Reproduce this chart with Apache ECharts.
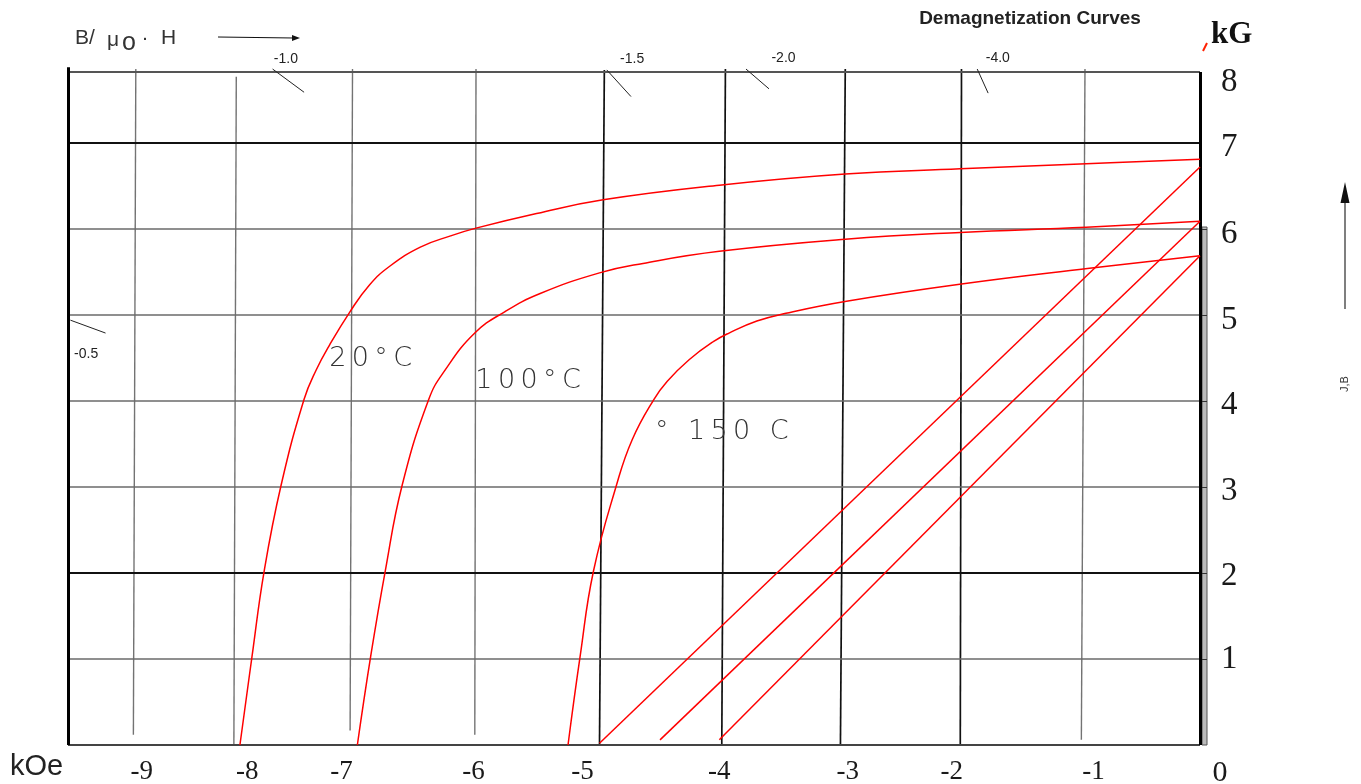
<!DOCTYPE html>
<html>
<head>
<meta charset="utf-8">
<script src="https://cdn.jsdelivr.net/npm/echarts@6/dist/echarts.min.js"></script>
<style>
html, body { margin: 0; padding: 0; background: #fff; }
#chart { width: 1361px; height: 784px; }
</style>
</head>
<body>
<div id="chart"></div>
<script>
var chart = echarts.init(document.getElementById('chart'));

// H in kOe, B in kG
let curve20 = [[-7.93,0],[-7.83,1.03],[-7.73,2.02],[-7.59,3.02],[-7.40,4.02],[-7.30,4.36],[-7.19,4.65],[-7.02,5.04],[-6.86,5.35],[-6.69,5.57],[-6.44,5.79],[-6.19,5.92],[-5.98,6.01],[-5.48,6.18],[-4.93,6.34],[-3.97,6.51],[-2.93,6.64],[-1.98,6.70],[-0.94,6.76],[0,6.81]];
let curve100 = [[-6.96,0],[-6.85,1.03],[-6.73,2.02],[-6.59,3.02],[-6.37,4.02],[-6.24,4.35],[-5.99,4.79],[-5.74,5.04],[-5.45,5.25],[-4.96,5.49],[-4.60,5.60],[-3.97,5.74],[-2.93,5.88],[-1.98,5.96],[-0.94,6.02],[0,6.09]];
let curve150 = [[-5.22,0],[-5.12,1.03],[-5.01,2.02],[-4.82,3.02],[-4.69,3.55],[-4.51,4.02],[-4.40,4.23],[-4.22,4.48],[-4.02,4.69],[-3.89,4.79],[-3.66,4.93],[-3.42,5.02],[-2.92,5.16],[-1.97,5.36],[-0.93,5.54],[0,5.69]];
// straight recoil lines
let recoil1 = [[-4.96,0.02],[0,6.72]];
let recoil2 = [[-4.46,0.06],[0,6.09]];
let recoil3 = [[-3.97,0.06],[0,5.69]];

let curveNames = ['20°C', '100°C', '° 150 C'];
let curveLabelAt = [[-6.85,4.49],[-5.55,4.23],[-3.95,3.64]];

// axis labels (the scan's labels are not evenly placed)
let xLabels = ['-9','-8','-7','-6','-5','-4','-3','-2','-1','0'];
let xLabelAt = [-8.74,-7.87,-7.09,-6.0,-5.1,-3.97,-2.91,-2.05,-0.88,0];
let yLabels = ['1','2','3','4','5','6','7','8'];
let yLabelAt = [0.995,1.96,2.95,3.95,4.94,5.94,6.95,7.70];

// sheet grid: vertical lines lean a little (kOe at top / at bottom)
let vGridTop = [-8.79,-7.96,-7.00,-5.98,-4.92,-3.92,-2.93,-1.97,-0.95];
let vGridBottom = [-8.81,-7.98,-7.02,-5.99,-4.96,-3.95,-2.97,-1.98,-0.98];
let vGridFrom = [0.12,0,0.17,0.12,0,0,0,0,0.06];
let vGridTo = [7.86,7.77,7.86,7.86,7.85,7.86,7.86,7.86,7.86];
let hGrid = [1,2,3,4,5,6,7];

// permeance marks B/(µo·H)
let permeance = ['-1.0','-1.5','-2.0','-4.0','-0.5'];
let permeanceLabelAt = [[-7.55,7.98],[-4.69,7.98],[-3.44,7.99],[-1.67,7.99],[-9.20,4.55]];
let permeanceTicks = [
  [[-7.66,7.86],[-7.40,7.59]],
  [[-4.90,7.85],[-4.70,7.54]],
  [[-3.75,7.86],[-3.56,7.63]],
  [[-1.84,7.86],[-1.75,7.58]],
  [[-9.33,4.94],[-9.04,4.79]]
];

const xMin = -9.35, xMax = 0, yTop = 7.826;
const darkV = [4,5,6,7];
const darkH = [2,7];

function seg(a, b, color, width) {
  return [{coord: a, lineStyle: {color: color, width: width, type: 'solid'}}, {coord: b}];
}

let sheet = [];
vGridTop.forEach(function (x, i) {
  let dark = darkV.indexOf(i) >= 0;
  sheet.push(seg([vGridBottom[i], vGridFrom[i]], [x, vGridTo[i]], dark ? '#111' : '#737373', dark ? 1.7 : 1.4));
});
hGrid.forEach(function (b) {
  let dark = darkH.indexOf(b) >= 0;
  sheet.push(seg([xMin, b], [xMax, b], dark ? '#111' : '#6a6a6a', dark ? 2.2 : 1.5));
});
sheet.push(seg([xMin, yTop], [xMax, yTop], '#555', 1.8));
sheet.push(seg([xMin, 0], [xMax, 0], '#444', 2.2));
sheet.push(seg([xMin, 0], [xMin, 7.88], '#000', 3));
sheet.push(seg([xMax, 0], [xMax, yTop], '#000', 3));
permeanceTicks.forEach(function (t) {
  sheet.push(seg(t[0], t[1], '#222', 1));
});

let labelPoints = curveNames.map(function (name, i) {
  return {
    coord: curveLabelAt[i], name: name,
    label: {
      show: true, position: 'inside', formatter: name.split('').join('\u2009'),
      fontFamily: 'DejaVu Sans', fontWeight: 200, fontSize: 27, color: '#333'
    }
  };
});
permeance.forEach(function (p, i) {
  labelPoints.push({
    coord: permeanceLabelAt[i], name: p,
    label: {show: true, position: 'inside', formatter: p, fontFamily: 'Liberation Sans', fontSize: 14, color: '#222'}
  });
});

function nearestIndex(arr, v) {
  let best = 0;
  arr.forEach(function (a, i) { if (Math.abs(a - v) < Math.abs(arr[best] - v)) best = i; });
  return best;
}

function curve(data) {
  return {
    type: 'line', data: data, showSymbol: false, smooth: 0.45,
    lineStyle: {color: '#ff0000', width: 1.5}, silent: true, z: 3
  };
}

let serifLabel = {fontFamily: 'Liberation Serif', color: '#1a1a1a'};

chart.setOption({
  animation: false,
  backgroundColor: '#fff',
  grid: {left: 68, right: 161, top: 40, bottom: 39, containLabel: false, outerBoundsMode: 'none'},
  xAxis: {
    type: 'value', min: xMin, max: xMax,
    splitLine: {show: false}, axisTick: {show: false},
    axisLine: {show: false},
    axisLabel: {
      customValues: xLabelAt,
      margin: 13,
      formatter: function (v) {
        let i = nearestIndex(xLabelAt, v);
        return i === xLabels.length - 1 ? '{z|' + xLabels[i] + '}' : '{n|' + xLabels[i] + '}';
      },
      rich: {
        n: Object.assign({fontSize: 27}, serifLabel),
        z: Object.assign({fontSize: 30, padding: [0, 0, 0, 40]}, serifLabel)
      }
    }
  },
  yAxis: {
    type: 'value', position: 'right', min: 0, max: 705 / 86,
    splitLine: {show: false},
    axisLine: {show: false},
    axisTick: {show: true, customValues: [1,2,3,4,5,6], length: 7, lineStyle: {color: '#333', width: 1}},
    axisLabel: {
      customValues: yLabelAt,
      margin: 21,
      fontFamily: 'Liberation Serif', fontSize: 33, color: '#1a1a1a',
      formatter: function (v) { return yLabels[nearestIndex(yLabelAt, v)]; }
    }
  },
  series: [
    {
      type: 'line', data: [[xMin, 0]], showSymbol: false, silent: true, lineStyle: {width: 0},
      markLine: {silent: true, symbol: ['none', 'none'], label: {show: false}, z: 1, data: sheet},
      markPoint: {
        silent: true, symbol: 'circle', symbolSize: 1, itemStyle: {color: 'rgba(0,0,0,0)'},
        data: labelPoints
      }
    },
    curve(curve20),
    curve(curve100),
    curve(curve150),
    curve(recoil1),
    curve(recoil2),
    curve(recoil3)
  ],
  graphic: [
    {type: 'text', x: 1030, y: 19, style: {text: 'Demagnetization Curves', fontFamily: 'Liberation Sans', fontWeight: 'bold', fontSize: 19, fill: '#222', align: 'center', verticalAlign: 'middle'}},
    {type: 'text', x: 1211, y: 35, style: {text: 'kG', fontFamily: 'Liberation Serif', fontWeight: 'bold', fontSize: 31, fill: '#111', align: 'left', verticalAlign: 'middle'}},
    {type: 'line', shape: {x1: 1203, y1: 51, x2: 1207, y2: 43}, style: {stroke: '#ff2000', lineWidth: 2}},
    {type: 'text', x: 75, y: 38, style: {text: 'B/', fontFamily: 'Liberation Sans', fontSize: 21, fill: '#333', align: 'left', verticalAlign: 'middle'}},
    {type: 'text', x: 107, y: 40, style: {text: '\u03bc', fontFamily: 'Liberation Sans', fontSize: 21, fill: '#333', align: 'left', verticalAlign: 'middle'}},
    {type: 'text', x: 122, y: 43, style: {text: 'o', fontFamily: 'Liberation Sans', fontSize: 25, fill: '#333', align: 'left', verticalAlign: 'middle'}},
    {type: 'text', x: 145, y: 38, style: {text: '\u00b7', fontFamily: 'Liberation Sans', fontSize: 21, fill: '#333', align: 'center', verticalAlign: 'middle'}},
    {type: 'text', x: 161, y: 38, style: {text: 'H', fontFamily: 'Liberation Sans', fontSize: 21, fill: '#333', align: 'left', verticalAlign: 'middle'}},
    {type: 'line', shape: {x1: 218, y1: 37, x2: 294, y2: 38}, style: {stroke: '#111', lineWidth: 1.2}},
    {type: 'polygon', shape: {points: [[300, 38], [292, 35], [292, 41]]}, style: {fill: '#111'}},
    {type: 'text', x: 10, y: 767, style: {text: 'kOe', fontFamily: 'Liberation Sans', fontSize: 29, fill: '#222', align: 'left', verticalAlign: 'middle'}},
    {type: 'text', x: 1345, y: 384, rotation: Math.PI / 2, style: {text: 'J,B', fontFamily: 'Liberation Sans', fontSize: 11, fill: '#333', align: 'center', verticalAlign: 'middle'}},
    {type: 'line', shape: {x1: 1345, y1: 309, x2: 1345, y2: 200}, style: {stroke: '#555', lineWidth: 1.5}},
    {type: 'polygon', shape: {points: [[1345, 182], [1340.5, 203], [1349.5, 203]]}, style: {fill: '#111'}},
    {type: 'rect', shape: {x: 1202, y: 227, width: 5, height: 518}, style: {fill: '#bbb', stroke: '#555', lineWidth: 1}}
  ]
});
</script>
</body>
</html>
